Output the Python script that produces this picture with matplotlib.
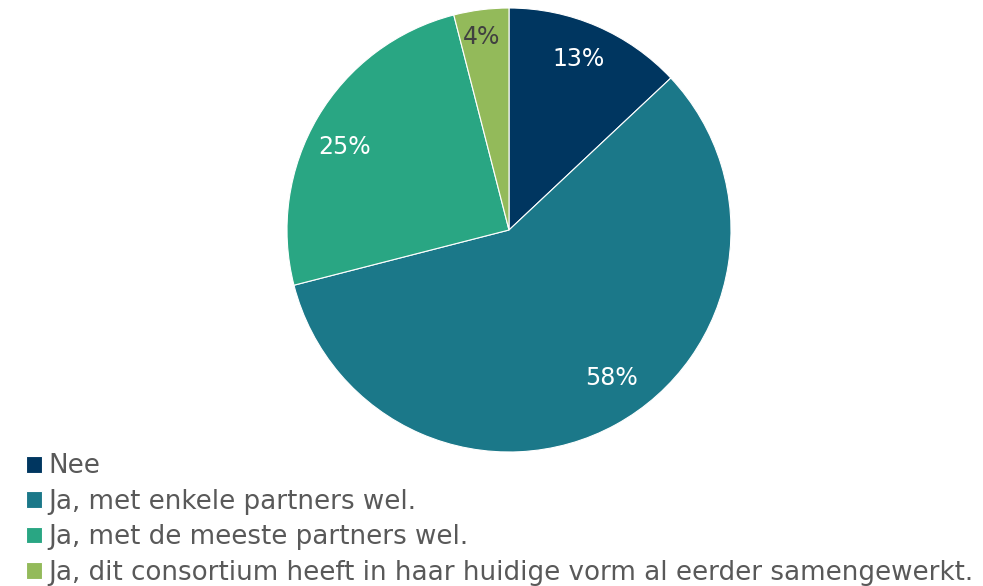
import numpy as np
import matplotlib.pyplot as plt

labels = ['Nee', 'Ja, met enkele partners wel.', 'Ja, met de meeste partners wel.',
          'Ja, dit consortium heeft in haar huidige vorm al eerder samengewerkt.']
values = [13, 58, 25, 4]
colors = ['#003660', '#1B7889', '#29A683', '#93BA5A']
pct_colors = ['white', 'white', 'white', '#404040']
# label placement: distance from centre (fraction of radius) and angle nudge (deg)
label_dist = [0.83, 0.81, 0.83, 0.88]
label_shift = [1.3, 5.8, 3.8, 0.8]

plt.rcParams['font.family'] = 'DejaVu Sans'

fig = plt.figure(figsize=(9.83, 5.86), dpi=100)
W, H = 983, 586
cx, cy, r = 509, 230, 222
ax = fig.add_axes([(cx - r) / W, (H - cy - r) / H, 2 * r / W, 2 * r / H])

wedges, texts, autotexts = ax.pie(values, colors=colors, startangle=90, counterclock=False,
                                  autopct='%d%%', pctdistance=0.82,
                                  wedgeprops=dict(linewidth=0.8, edgecolor='white'),
                                  textprops=dict(fontsize=17))
for w, t, c, d, s in zip(wedges, autotexts, pct_colors, label_dist, label_shift):
    t.set_color(c)
    ang = np.deg2rad((w.theta1 + w.theta2) / 2 + s)
    t.set_position((d * np.cos(ang), d * np.sin(ang)))

ax.set_xlim(-1, 1)
ax.set_ylim(-1, 1)

leg = fig.legend(wedges, labels, loc='upper left', bbox_to_anchor=(16 / W, 1 - 443 / H),
                 frameon=False, fontsize=18.8, handlelength=0.6, handleheight=0.6,
                 handletextpad=0.25, labelspacing=0.36, borderaxespad=0)
for t in leg.get_texts():
    t.set_color('#595959')

fig.savefig('out.png', dpi=100)
